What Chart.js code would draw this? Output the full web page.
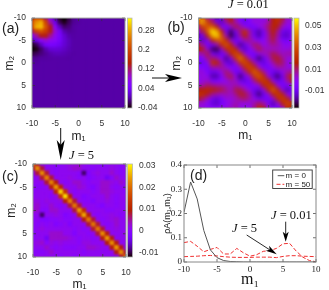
<!DOCTYPE html>
<html><head><meta charset="utf-8">
<style>
html,body{margin:0;padding:0;background:#fff;width:329px;height:290px;overflow:hidden}
canvas{position:absolute;left:0;top:0;filter:blur(0.35px)}
</style>
<script src="https://cdn.jsdelivr.net/npm/chart.js@4"></script>
</head><body>
<canvas id="pa" width="329" height="290"></canvas>
<canvas id="pb" width="329" height="290"></canvas>
<canvas id="pc" width="329" height="290"></canvas>
<canvas id="pd" width="329" height="290"></canvas>
<script>
// m1 / m2 grid axis
const gridM = [-10,-9,-8,-7,-6,-5,-4,-3,-2,-1,0,1,2,3,4,5,6,7,8,9,10];
const axisTicks = [-10,-5,0,5,10];

// symmetric correlation maps: upper triangle rows, in thousandths
const upperA = [
 [160,205,195,125,55,5,-35,-40,-25,-5,0],
 [265,285,195,105,30,-20,-35,-18,-3,0],
 [295,215,140,68,10,-15,-10,0],
 [190,140,88,40,5,-3,0],
 [110,74,45,18,4,1],
 [65,42,20,8,2],
 [32,18,8,2],
 [12,6,2],
 [3,1]
];
const restA = 2;
const upperB = [
 [46,32,8,0,-16,-6,14,16,4,-6,-10,-4,2,0,0,4,14,22,14,4,2],
 [46,26,12,-8,-14,6,14,6,-4,-10,-4,2,2,2,6,16,20,10,2,2],
 [32,34,16,-4,-8,2,12,8,-2,-8,-6,0,4,10,18,14,4,-2,0],
 [54,46,18,-8,-20,-6,10,22,6,-10,-16,-6,8,16,8,-8,-12,-2],
 [52,30,4,-22,-12,6,16,6,-8,-16,-6,6,14,6,-12,-14,-2],
 [34,20,2,-10,-2,6,8,2,-4,-2,6,12,4,-6,-8,0],
 [32,18,0,-18,-10,2,10,8,0,4,8,6,2,-2,2],
 [26,18,-2,-14,-4,4,12,6,4,4,4,2,2,4],
 [30,22,2,-6,-8,0,4,6,12,8,4,6,6],
 [38,22,4,-8,-20,-10,2,12,14,8,2,2],
 [30,20,6,-6,-12,-2,6,12,10,2,0],
 [28,20,4,-6,-8,0,6,6,2,0],
 [34,24,8,-2,-10,-10,0,6,8],
 [32,20,2,-12,-20,-8,10,20],
 [25,18,0,-10,-8,6,14],
 [24,18,0,-8,-6,2],
 [33,18,0,-16,-6],
 [25,18,0,-8],
 [26,18,2],
 [28,20],
 [20]
];
const upperC = [
 [21,8,1,0,1,0,0,1,2,2,3,1,0,1,0,-1,0,1,1,0,1],
 [23,8,1,1,0,1,1,2,3,3,1,1,0,1,1,1,2,1,0,1],
 [23,8,1,0,1,1,1,1,0,-9,-1,1,2,1,1,3,1,0,1],
 [22,8,1,1,1,2,1,0,1,-1,0,1,1,-3,0,3,1,1],
 [22,9,1,0,1,3,3,1,0,1,1,3,3,2,1,3,1],
 [24,11,2,1,1,3,2,0,-1,1,3,3,1,0,1,1],
 [28,13,2,0,1,1,1,0,1,3,3,2,1,1,0],
 [29,10,1,1,-1,0,1,1,1,3,1,0,1,1],
 [22,8,1,0,0,-1,1,1,2,1,0,1,1],
 [21,8,1,1,1,0,-1,1,1,0,1,0],
 [24,12,1,1,1,1,0,0,1,1,1],
 [25,9,1,0,1,1,2,1,0,1],
 [21,8,1,0,1,2,3,1,1],
 [21,8,1,0,1,3,1,1],
 [21,8,1,1,2,1,1],
 [23,9,1,1,1,2],
 [24,9,1,1,1],
 [23,9,1,1],
 [24,9,1],
 [23,8],
 [20]
];
// colour bar ticks
const barTicksA = [0.28,0.2,0.12,0.04,-0.04];
const barTicksB = [0.05,0.03,0.01,-0.01];
const barTicksC = [0.03,0.02,0.01,0,-0.01];

// panel (d) curves
const curveM0 = [0.205,0.33,0.26,0.13,0.05,0.018,0.006,0.002,0.001,0,0,0,0,0,0,0,0,0,0,0,0];
const curveJ001 = [0.08,0.085,0.065,0.042,0.052,0.06,0.033,0.033,0.056,0.038,0.024,0.03,0.044,0.047,0.056,0.075,0.077,0.045,0.02,0.006,0.001];
const curveJ5 = [0.022,0.023,0.024,0.026,0.027,0.025,0.022,0.02,0.019,0.019,0.019,0.02,0.02,0.02,0.018,0.023,0.026,0.026,0.024,0.023,0.022];
const probTicks = [0,0.1,0.2,0.3,0.4];

function palette(x){
  x = Math.max(0,Math.min(1,x));
  const r = Math.sqrt(x), g = x*x*x, b = Math.max(0,Math.sin(2*Math.PI*x));
  return `rgb(${Math.round(r*255)},${Math.round(g*255)},${Math.round(b*255)})`;
}
function cell(rows,j,i,rest){
  const a = Math.min(i,j), b = Math.max(i,j), row = rows[a];
  const v = row ? row[b-a] : undefined;
  return v===undefined ? rest : v;
}
function cellsOf(rows,rest){
  const out = [];
  gridM.forEach((m2,j)=>gridM.forEach((m1,i)=>out.push({x:m1,y:m2,v:cell(rows,j,i,rest)/1000})));
  return out;
}
const sans = 'Liberation Sans', serif = 'Liberation Serif';

function heatChart(id,rows,rest,barTicks,lo,hi,g){
  const cells = cellsOf(rows,rest);
  const blurPlugin = {
    id:'heatFinish',
    afterDatasetsDraw(chart){
      const c = chart.ctx, a = chart.chartArea;
      c.save();
      c.beginPath(); c.rect(a.left,a.top,a.right-a.left,a.bottom-a.top); c.clip();
      c.filter = `blur(${g.blur}px)`;
      c.drawImage(chart.canvas,a.left,a.top,a.right-a.left,a.bottom-a.top,a.left,a.top,a.right-a.left,a.bottom-a.top);
      c.restore();
      frame(chart,'x','y','#9a9a9a');
      const y2 = chart.scales.y2;
      c.save();
      for(let p=Math.floor(a.top);p<a.bottom;p++){
        const x = (y2.getValueForPixel(p+0.5)-lo)/(hi-lo);
        c.fillStyle = palette(x);
        c.fillRect(g.barL,p,g.barW,1);
      }
      c.strokeStyle='#b5b5b5'; c.lineWidth=0.8;
      c.strokeRect(g.barL,a.top,g.barW,a.bottom-a.top);
      c.restore();
    }
  };
  return new Chart(document.getElementById(id),{
    type:'scatter',
    data:{datasets:[{
      data:cells,
      pointStyle:'rect',
      pointRadius:3.7,
      pointBorderWidth:0,
      pointBackgroundColor:cells.map(d=>palette((d.v-lo)/(hi-lo)))
    }]},
    plugins:[blurPlugin],
    options:{
      responsive:false,animation:false,events:[],
      layout:{padding:{left:g.boxL,top:g.top,right:329-g.right-35,bottom:290-g.boxB}},
      plugins:{legend:{display:false},tooltip:{enabled:false}},
      scales:{
        x:{type:'linear',min:-10,max:10,position:'bottom',
           afterBuildTicks:s=>{s.ticks=axisTicks.map(v=>({value:v}));},
           afterFit:s=>{s.height=g.boxB-g.bottom;},
           grid:{display:false,drawTicks:false},border:{display:false},
           ticks:{padding:g.xPad,color:'#333',font:{family:sans,size:8.5},maxRotation:0},
           title:{display:true,text:'m₁',color:'#222',padding:0,font:{family:sans,size:12}}},
        y:{type:'linear',min:-10,max:10,reverse:true,position:'left',
           afterBuildTicks:s=>{s.ticks=axisTicks.map(v=>({value:v}));},
           afterFit:s=>{s.width=g.left-g.boxL;},
           grid:{display:false,drawTicks:false},border:{display:false},
           ticks:{padding:6,color:'#333',font:{family:sans,size:8.5}},
           title:{display:true,text:'m₂',color:'#222',padding:0,font:{family:sans,size:12}}},
        y2:{type:'linear',min:lo,max:hi,position:'right',
           afterBuildTicks:s=>{s.ticks=barTicks.map(v=>({value:v}));},
           afterFit:s=>{s.width=35;},
           grid:{display:false,drawTicks:false},border:{display:false},
           ticks:{padding:g.barPad,color:'#333',font:{family:sans,size:8.5},callback:v=>String(v)}}
      }
    }
  });
}
function frame(chart,xId,yId,col){
  const c = chart.ctx, a = chart.chartArea, X = chart.scales[xId], Y = chart.scales[yId];
  c.save();
  c.strokeStyle = '#333'; c.lineWidth = 0.7;
  X.ticks.forEach(t=>{const p=X.getPixelForValue(t.value);
    c.beginPath();c.moveTo(p,a.top);c.lineTo(p,a.top+3);c.moveTo(p,a.bottom);c.lineTo(p,a.bottom-3);c.stroke();});
  Y.ticks.forEach(t=>{const p=Y.getPixelForValue(t.value);
    c.beginPath();c.moveTo(a.left,p);c.lineTo(a.left+3,p);c.moveTo(a.right,p);c.lineTo(a.right-3,p);c.stroke();});
  c.strokeStyle = col; c.lineWidth = 1;
  c.strokeRect(a.left,a.top,a.right-a.left,a.bottom-a.top);
  c.restore();
}

heatChart('pa',upperA,restA,barTicksA,-0.04,0.33,
  {left:32,right:125,top:15,bottom:108,boxL:2.8,boxB:144.2,barL:127.5,barW:4.5,barPad:13,xPad:11,blur:1.7});
heatChart('pb',upperB,0,barTicksB,-0.0255,0.0568,
  {left:198.5,right:292,top:15,bottom:108,boxL:169.5,boxB:142.5,barL:294,barW:5,barPad:13,xPad:11,blur:1.9});
heatChart('pc',upperC,0,barTicksC,-0.012,0.0307,
  {left:33,right:126,top:164,bottom:257,boxL:4.5,boxB:291.5,barL:127.5,barW:5,barPad:13,xPad:11,blur:1});

function arrow(c,x0,y0,x1,y1,len,half,lw){
  const ang = Math.atan2(y1-y0,x1-x0), ux=Math.cos(ang), uy=Math.sin(ang);
  const bx=x1-ux*len, by=y1-uy*len, nx=x1-ux*len*0.75, ny=y1-uy*len*0.75;
  c.strokeStyle='#111'; c.lineWidth=lw;
  c.beginPath(); c.moveTo(x0,y0); c.lineTo(nx,ny); c.stroke();
  c.fillStyle='#000';
  c.beginPath(); c.moveTo(x1,y1);
  c.lineTo(bx-uy*half,by+ux*half); c.lineTo(nx,ny); c.lineTo(bx+uy*half,by-ux*half);
  c.closePath(); c.fill();
}
function jLabel(c,x,y,rest,size){
  c.textBaseline='middle'; c.textAlign='left'; c.fillStyle='#111';
  c.font=`italic ${size}px "${serif}"`;
  c.fillText('J',x,y);
  const w=c.measureText('J').width;
  c.font=`${size}px "${serif}"`;
  c.fillText(rest,x+w,y);
}
const notes = {
  id:'notes',
  afterDraw(chart){
    const c = chart.ctx;
    c.save();
    frame(chart,'x','y','#888');
    // legend box, with the labels of the first two series
    c.strokeStyle='#333'; c.lineWidth=0.9;
    c.strokeRect(272.7,170,39.5,18.5);
    const sets = chart.data.datasets;
    [0,1].forEach((k,n)=>{
      const y = 175.7+n*8.6;
      c.strokeStyle = sets[k].borderColor; c.lineWidth = 1;
      c.setLineDash(sets[k].borderDash||[]);
      c.beginPath(); c.moveTo(n?276.5:277.7,y); c.lineTo(284.3,y); c.stroke();
      c.setLineDash([]);
      c.fillStyle='#222'; c.textBaseline='middle'; c.textAlign='left';
      c.font=`8px "${sans}"`;
      c.fillText(sets[k].label,285.6,y);
    });
    arrow(c,152,78,182,78,17,4,1);
    arrow(c,60.7,128,60.7,160,20,4,1);
    arrow(c,246.7,235,276.7,254.3,11,3,0.9);
    arrow(c,285.7,221.7,285.7,241.7,10,3,0.9);
    jLabel(c,228,5,' = 0.01',12.5);
    jLabel(c,69,156,' = 5',12.5);
    jLabel(c,232,228.5,' = 5',12.5);
    jLabel(c,271,216,' = 0.01',12.5);
    c.fillStyle='#222'; c.textBaseline='middle'; c.textAlign='left';
    c.font=`14px "${sans}"`;
    c.fillText('(a)',2,29);
    c.fillText('(b)',167.5,28);
    c.fillText('(c)',2,177);
    c.fillText('(d)',190,176);
    c.restore();
  }
};
new Chart(document.getElementById('pd'),{
  type:'scatter',
  data:{datasets:[
    {label:'m = 0',data:gridM.map((m,i)=>({x:m,y:curveM0[i]})),showLine:true,pointRadius:0,borderColor:'#555',backgroundColor:'#555',borderWidth:1},
    {label:'m = 50',data:gridM.map((m,i)=>({x:m,y:curveJ001[i]})),showLine:true,pointRadius:0,borderColor:'#f03030',backgroundColor:'#f03030',borderWidth:1,borderDash:[4,2]},
    {label:'m = 50 (J = 5)',data:gridM.map((m,i)=>({x:m,y:curveJ5[i]})),showLine:true,pointRadius:0,borderColor:'#f03030',backgroundColor:'#f03030',borderWidth:1,borderDash:[4,2]}
  ]},
  plugins:[notes],
  options:{
    responsive:false,animation:false,events:[],
    layout:{padding:{left:162,top:165,right:13,bottom:0.4}},
    plugins:{tooltip:{enabled:false},legend:{display:false}},
    scales:{
      x:{type:'linear',min:-10,max:10,
         afterBuildTicks:s=>{s.ticks=axisTicks.map(v=>({value:v}));},
         afterFit:s=>{s.height=27.6;},
         grid:{display:false,drawTicks:false},border:{display:false},
         ticks:{padding:2,color:'#222',font:{family:serif,size:9},maxRotation:0},
         title:{display:true,text:'m₁',color:'#111',padding:0,font:{family:serif,size:16}}},
      y:{type:'linear',min:0,max:0.4,
         afterBuildTicks:s=>{s.ticks=probTicks.map(v=>({value:v}));},
         afterFit:s=>{s.width=22;},
         grid:{display:false,drawTicks:false},border:{display:false},
         ticks:{padding:2,color:'#222',font:{family:serif,size:9},callback:v=>String(v)},
         title:{display:true,text:'ρA(m₁,m₁)',color:'#222',padding:0,font:{family:sans,size:9}}}
    }
  }
});
</script>
</body></html>
